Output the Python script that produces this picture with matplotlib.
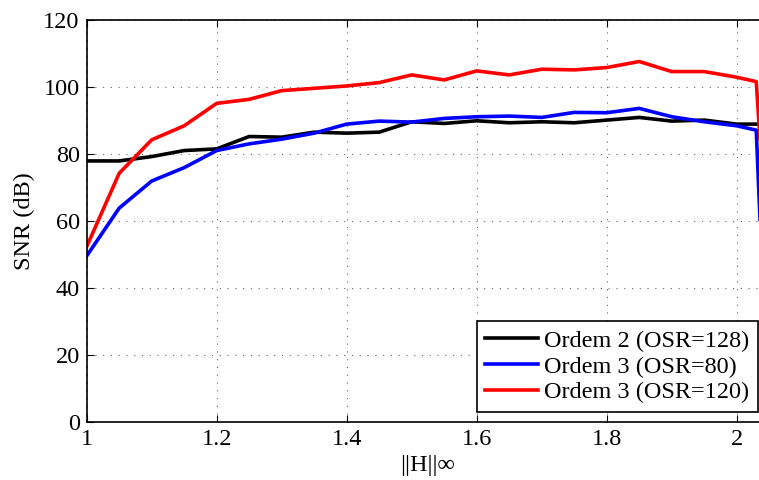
import numpy as np
import matplotlib.pyplot as plt

plt.rcParams['font.family'] = ['Liberation Serif', 'DejaVu Serif']

# norma infinito de H (eixo x)
hinf = [1.00, 1.05, 1.10, 1.15, 1.20, 1.25, 1.30, 1.35, 1.40, 1.45, 1.50,
        1.55, 1.60, 1.65, 1.70, 1.75, 1.80, 1.85, 1.90, 1.95, 2.00, 2.03, 2.05]

# SNR (dB) para cada modulador
snr_o2_128 = [77.9, 77.9, 79.2, 81.0, 81.5, 85.2, 85.0, 86.5, 86.2, 86.5, 89.6,
              89.1, 89.9, 89.3, 89.6, 89.3, 90.1, 90.9, 89.8, 90.1, 88.9, 88.9, 88.9]
snr_o3_80 = [49.5, 63.8, 71.9, 75.9, 81.0, 83.0, 84.4, 86.2, 88.9, 89.8, 89.5,
             90.6, 91.1, 91.3, 90.9, 92.4, 92.3, 93.6, 91.1, 89.6, 88.4, 87.1, -5.0]
snr_o3_120 = [52.3, 74.2, 84.2, 88.4, 95.1, 96.3, 98.9, 99.6, 100.3, 101.3, 103.6,
              102.1, 104.8, 103.6, 105.3, 105.1, 105.8, 107.6, 104.6, 104.6, 102.9, 101.6, 42.0]

labels = ['Ordem 2 (OSR=128)', 'Ordem 3 (OSR=80)', 'Ordem 3 (OSR=120)']
fs = 17.5

fig = plt.figure(figsize=(7.59, 4.8), dpi=100)
ax = fig.add_axes([0.1142, 0.1215, 0.8993, 0.8368])

ax.plot(hinf, snr_o2_128, color='k', lw=2.6, label=labels[0])
ax.plot(hinf, snr_o3_80, color=(0, 0, 1), lw=2.6, label=labels[1])
ax.plot(hinf, snr_o3_120, color=(1, 0, 0), lw=2.6, label=labels[2])

ax.set_xlim(1, 2.05)
ax.set_ylim(0, 120)
ax.set_xticks([1, 1.2, 1.4, 1.6, 1.8, 2])
ax.set_xticklabels(['1', '1.2', '1.4', '1.6', '1.8', '2'])
ax.set_yticks(np.arange(0, 121, 20))
ax.tick_params(direction='in', length=5, width=0.8, labelsize=fs,
               top=True, right=True, pad=5)
ax.grid(True, linestyle=(0, (1, 6)), color='k', lw=0.8, alpha=0.6)
for s in ax.spines.values():
    s.set_linewidth(1.2)

ax.set_xlabel('||H||∞', fontsize=fs, labelpad=4)
ax.set_ylabel('SNR (dB)', fontsize=fs, labelpad=6)

leg = ax.legend(loc='lower right', bbox_to_anchor=(758 / 759, 68.3 / 480),
                bbox_transform=fig.transFigure, borderaxespad=0,
                fontsize=fs, fancybox=False, framealpha=1,
                edgecolor='k', handlelength=2.18, handletextpad=0.25,
                labelspacing=0.15, borderpad=0.35)
leg.get_frame().set_linewidth(1.2)

fig.savefig('out.png', dpi=100)
